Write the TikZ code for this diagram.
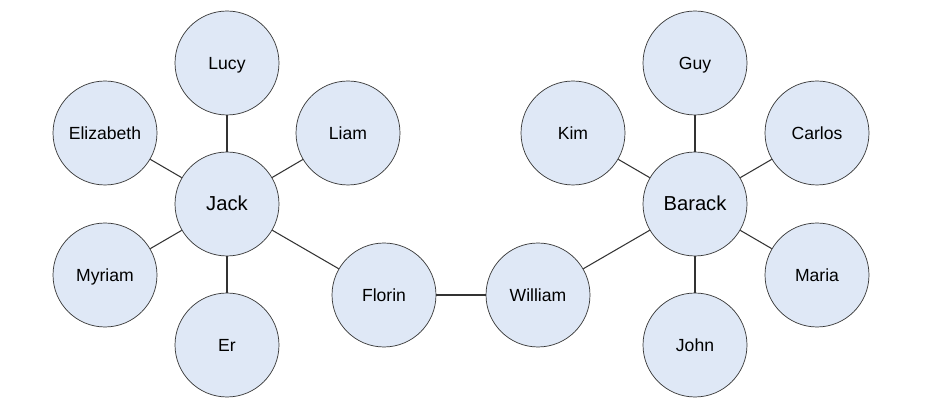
\documentclass[tikz,border=0pt]{standalone}
\usepackage{fontspec}
\setmainfont{Liberation Sans}
\definecolor{bubble}{HTML}{DFE8F6}
\tikzset{
  person/.style={circle, draw=black!80, fill=bubble, minimum size=2.08cm, inner sep=0pt,
    text height=1.6ex, text depth=0.3ex, font=\fontsize{10}{12}\selectfont},
  hub/.style={person, font=\fontsize{11.5}{14}\selectfont},
  link/.style={draw=black!80, line width=0.6pt}
}
\begin{document}
\begin{tikzpicture}[x=0.02cm, y=-0.02cm]
\useasboundingbox (0,0) rectangle (936,411);
\node[hub] (jack) at (227,204) {Jack}; % left hub
\node[person] (lucy) at (227,63) {Lucy};
\node[person] (elizabeth) at (105,133) {Elizabeth};
\node[person] (liam) at (348,133) {Liam};
\node[person] (myriam) at (105,275) {Myriam};
\node[person] (er) at (227,345) {Er};
\node[person] (florin) at (384,295) {Florin};
\node[person] (william) at (538,295) {William};
\node[hub] (barack) at (695,204) {Barack}; % right hub
\node[person] (guy) at (695,63) {Guy};
\node[person] (kim) at (573,133) {Kim};
\node[person] (carlos) at (817,133) {Carlos};
\node[person] (maria) at (817,275) {Maria};
\node[person] (john) at (695,345) {John};
\foreach \n in {lucy,elizabeth,liam,myriam,er,florin}
  \path[link] (jack) -- (\n);
\foreach \n in {guy,kim,carlos,maria,john,william}
  \path[link] (barack) -- (\n);
\path[link] (florin) -- (william);
\end{tikzpicture}
\end{document}
